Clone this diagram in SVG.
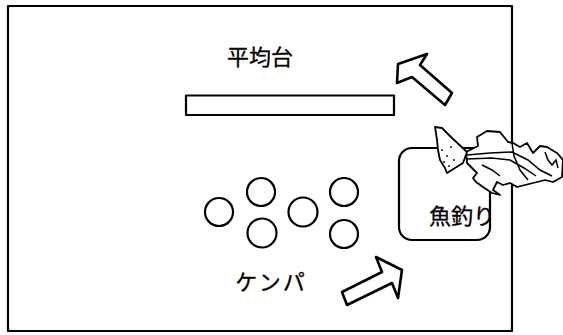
<svg xmlns="http://www.w3.org/2000/svg" width="563" height="335" viewBox="0 0 563 335">
  <style>
    .line { fill: none; stroke: #000; stroke-width: 2.2; stroke-linejoin: round; }
    .shape { fill: #fff; stroke: #000; stroke-width: 2.6; stroke-linejoin: round; }
    .label { font-family: "Noto Sans CJK JP", "Noto Sans CJK SC", sans-serif; font-size: 22px; fill: #000; text-anchor: middle; stroke: #000; stroke-width: 0.3; }
    .fish { fill: #fff; stroke: #000; stroke-width: 1.8; stroke-linejoin: round; }
    .fishline { fill: none; stroke: #000; stroke-width: 1.5; }
  </style>

  <rect width="563" height="335" fill="#fff"/>

  <!-- outer boundary of the play area -->
  <rect id="frame" x="8" y="6" width="504" height="325" class="line" stroke-width="2.6"/>

  <!-- balance beam -->
  <g id="beam">
    <text class="label" x="260" y="65">平均台</text>
    <rect x="186" y="95.5" width="208" height="19.5" class="line"/>
  </g>

  <!-- hopscotch rings -->
  <g id="kenpa">
    <circle cx="219" cy="212" r="14" class="line"/>
    <circle cx="261" cy="192" r="14" class="line"/>
    <circle cx="262" cy="233" r="14.5" class="line"/>
    <circle cx="303" cy="212" r="14.5" class="line"/>
    <circle cx="344" cy="192" r="14" class="line"/>
    <circle cx="344" cy="234" r="14" class="line"/>
    <text class="label" x="271" y="290" letter-spacing="2">ケンパ</text>
  </g>

  <!-- fishing corner -->
  <g id="fishing">
    <rect x="399" y="148" width="91" height="92" rx="13" class="line"/>
    <text class="label" x="462" y="224">魚釣り</text>
  </g>

  <!-- fish picture overlapping the corner -->
  <g id="fish">
    <!-- body and head -->
    <path class="fish" d="M466,152 L478,146 L477,137 L487,131 L500,132 L508,142 L513,143 L520,147 L527,143 L533,153 L540,146 L547,147 L552,150 L557,153 L563,160 L562,177 L553,182 L545,180 L537,182 L525,185 L517,187 L510,183 L503,185 L497,182 L493,190 L500,195 L492,193 L483,187 L476,182 L473,178 L477,173 L467,163 Z"/>
    <!-- tail fin -->
    <path class="fish" d="M435,127 L442,128 L452,138 L467,152 L463,163 L455,168 L447,173 L445,168 L440,160 L438,150 L437,140 Z"/>
    <!-- body markings -->
    <path class="fishline" d="M467,155 L490,153 L512,152 L528,160 L540,170 L552,176"/>
    <path class="fishline" d="M467,159 L492,158 L510,160 L524,168 L536,176"/>
    <path class="fishline" d="M512,143 L514,156 L520,170 L528,180"/>
    <path class="fishline" d="M545,152 L548,160 L552,165 L556,160 L558,168"/>
    <path class="fishline" d="M482,165 L492,170 L500,176"/>
    <g fill="#000">
      <circle cx="442" cy="150" r="0.9"/>
      <circle cx="447" cy="156" r="0.9"/>
      <circle cx="444" cy="162" r="0.9"/>
      <circle cx="451" cy="147" r="0.9"/>
      <circle cx="454" cy="160" r="0.9"/>
      <circle cx="449" cy="166" r="0.9"/>
    </g>
  </g>

  <!-- movement arrows -->
  <g id="connectors">
    <path class="shape" d="M398,64 L427,54 L420,65 L452,93 L445,105 L412,77 L397,83 Z"/>
    <path class="shape" d="M342,292 L382,272 L376,257 L402,270 L398,298 L392,283 L347,305 Z"/>
  </g>
</svg>
